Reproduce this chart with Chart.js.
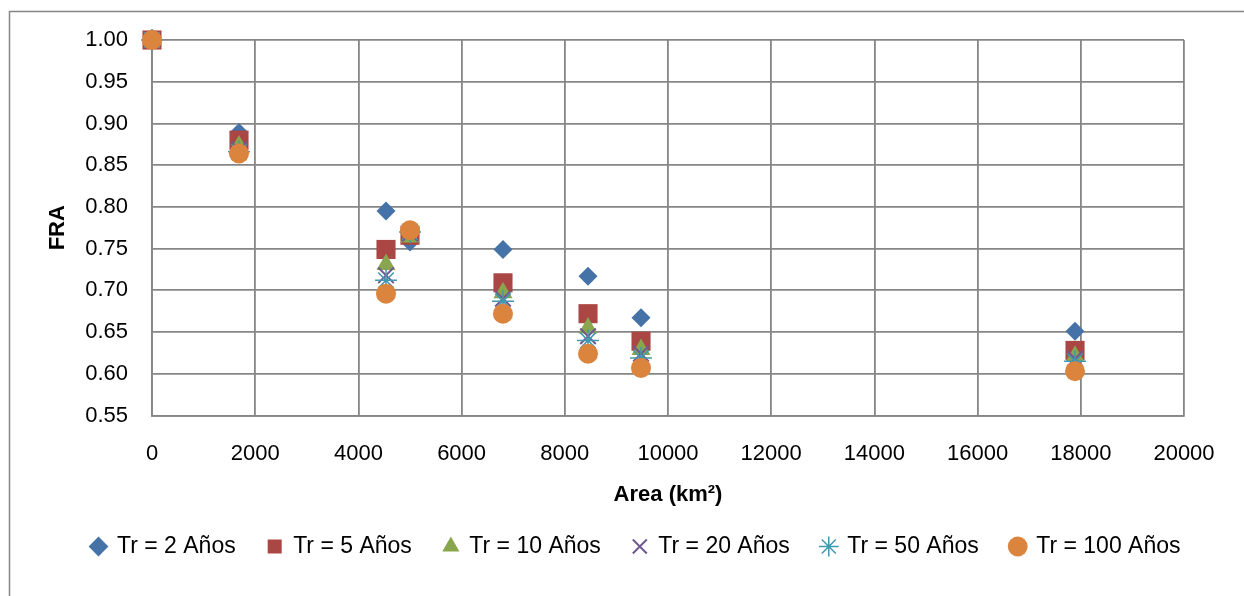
<!DOCTYPE html>
<html>
<head>
<meta charset="utf-8">
<style>
  html, body { margin: 0; padding: 0; background: #fff; }
  #wrap { width: 1244px; height: 596px; }
</style>
</head>
<body>
<div id="wrap"><canvas id="fra-chart" width="1244" height="596"></canvas></div>

<script src="https://cdn.jsdelivr.net/npm/chart.js@4.4.1/dist/chart.umd.min.js"></script>
<script>
  // area of each basin (km2) and FRA per return period
  const areas = [0, 1686, 4535, 5000, 6802, 8450, 9477, 17888];
  const tr2   = [1.000, 0.889, 0.795, 0.758, 0.749, 0.717, 0.667, 0.651];
  const tr5   = [1.000, 0.880, 0.749, 0.766, 0.709, 0.672, 0.639, 0.628];
  const tr10  = [1.000, 0.873, 0.731, 0.764, 0.697, 0.655, 0.629, 0.621];
  const tr20  = [1.000, 0.869, 0.718, 0.768, 0.690, 0.645, 0.624, 0.618];
  const tr50  = [1.000, 0.866, 0.712, 0.770, 0.687, 0.640, 0.619, 0.615];
  const tr100 = [1.000, 0.864, 0.696, 0.772, 0.672, 0.624, 0.607, 0.603];

  const seriesLabels = ['Tr = 2 Años', 'Tr = 5 Años', 'Tr = 10 Años', 'Tr = 20 Años', 'Tr = 50 Años', 'Tr = 100 Años'];
  const seriesValues = [tr2, tr5, tr10, tr20, tr50, tr100];

  const colors = ['#4572A7', '#AA4643', '#89A54E', '#71588F', '#4198AF', '#DB843D'];
  const styles = ['rectRot', 'rect', 'triangle', 'crossRot', 'star', 'circle'];
  const radii  = [9.5, 13.5, 11, 11, 11, 10];
  const borders = [0, 0, 0, 2, 1.5, 0];

  const gridGrey = '#868686';
  const font = 'Liberation Sans, Arial, sans-serif';

  Chart.defaults.color = '#000';
  Chart.defaults.font.family = font;

  const datasets = seriesLabels.map((label, i) => ({
    label: label,
    data: areas.map((a, j) => ({ x: a, y: seriesValues[i][j] })),
    backgroundColor: colors[i],
    borderColor: colors[i],
    pointStyle: styles[i],
    pointRadius: radii[i],
    pointHoverRadius: radii[i],
    pointBorderWidth: borders[i],
    showLine: false,
    clip: false,
    order: seriesLabels.length - i // last series drawn on top
  }));

  // grey frame round the whole chart, as in the spreadsheet export
  const frame = {
    id: 'frame',
    beforeDraw(chart) {
      const c = chart.ctx;
      c.save();
      c.fillStyle = '#fff';
      c.fillRect(0, 0, chart.width, chart.height);
      c.strokeStyle = gridGrey;
      c.lineWidth = 1.5;
      c.strokeRect(9.5, 11.5, chart.width + 10, chart.height + 10);
      c.restore();
    }
  };

  new Chart(document.getElementById('fra-chart'), {
    type: 'scatter',
    data: { datasets: datasets },
    plugins: [frame],
    options: {
      responsive: false,
      animation: false,
      layout: { padding: { left: 38, right: 10, top: 40, bottom: 28 } },
      plugins: {
        tooltip: { enabled: false },
        legend: {
          position: 'bottom',
          labels: {
            usePointStyle: true,
            boxWidth: 14,
            boxHeight: 14,
            padding: 32,
            font: { size: 23 },
            sort: (a, b) => a.datasetIndex - b.datasetIndex
          }
        }
      },
      scales: {
        x: {
          type: 'linear',
          min: 0,
          max: 20000,
          afterFit: (s) => { s.height = 87.5; },
          ticks: {
            stepSize: 2000,
            padding: 25,
            font: { size: 22 },
            maxRotation: 0,
            callback: (v) => String(v)
          },
          grid: { color: gridGrey, lineWidth: 1.8, drawTicks: false },
          border: { color: gridGrey, width: 1.8 },
          title: {
            display: true,
            text: 'Area (km²)',
            font: { size: 22, weight: 'bold' },
            padding: { top: 0, bottom: -5 }
          }
        },
        y: {
          min: 0.55,
          max: 1.0,
          afterFit: (s) => { s.width = 114; },
          ticks: {
            stepSize: 0.05,
            padding: 24,
            font: { size: 22 },
            callback: (v) => v.toFixed(2)
          },
          grid: { color: gridGrey, lineWidth: 1.8, drawTicks: false },
          border: { color: gridGrey, width: 1.8 },
          title: {
            display: true,
            text: 'FRA',
            font: { size: 22, weight: 'bold' },
            padding: { top: 7, bottom: 0 }
          }
        },
        // empty right-hand axis, only reserves the margin right of the plot
        yPad: {
          position: 'right',
          display: true,
          afterFit: (s) => { s.width = 50; },
          ticks: { display: false },
          grid: { display: false, drawTicks: false },
          border: { display: false }
        }
      }
    }
  });
</script>
</body>
</html>
